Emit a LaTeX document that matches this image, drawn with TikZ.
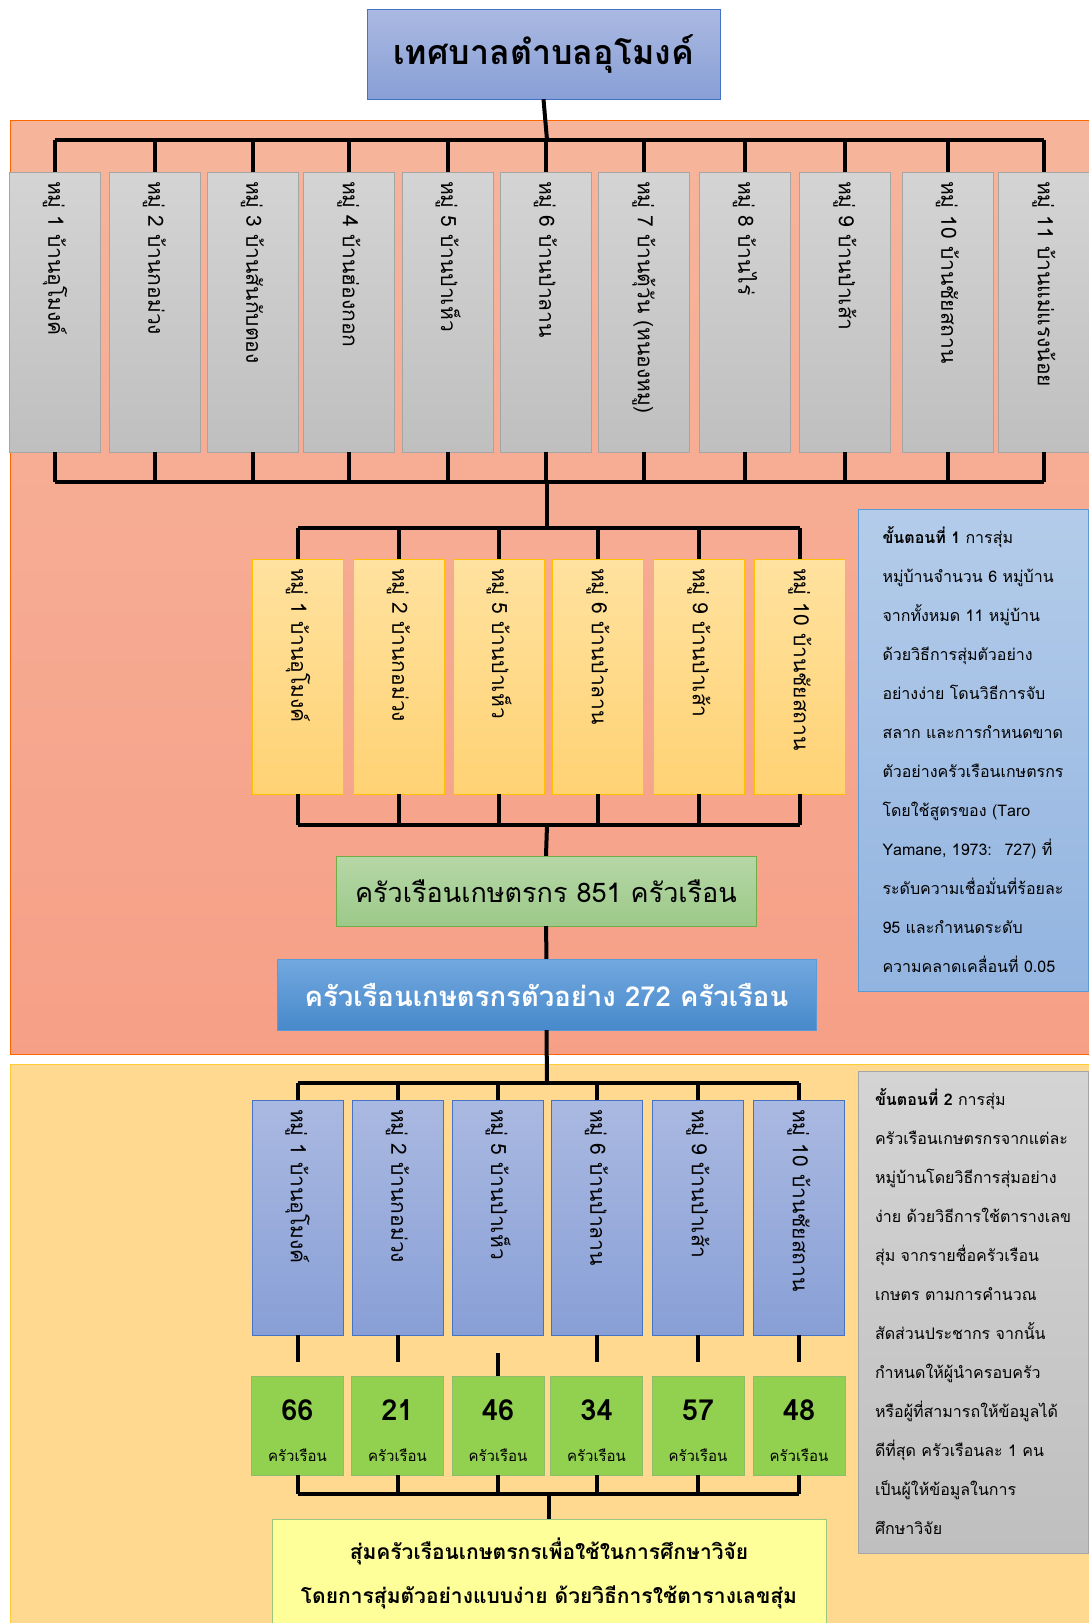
\documentclass[tikz,border=0pt]{standalone}
\usepackage{fontspec}
\setmainfont[Script=Thai]{Loma}
\usepackage{tikz}
\usetikzlibrary{calc}

\definecolor{panelorange}{HTML}{F5B196}
\definecolor{panelyellow}{HTML}{FED98F}
\definecolor{graytop}{HTML}{D4D4D4}
\definecolor{graybot}{HTML}{BFBFBF}
\definecolor{grayline}{HTML}{A5A5A5}
\definecolor{ambertop}{HTML}{FFE29F}
\definecolor{amberbot}{HTML}{FFD274}
\definecolor{amberline}{HTML}{FFC000}
\definecolor{bluetop}{HTML}{AAB9E1}
\definecolor{bluebot}{HTML}{889FD6}
\definecolor{blueline}{HTML}{4472C4}
\definecolor{greentop}{HTML}{B6D7A6}
\definecolor{greenbot}{HTML}{9CC989}
\definecolor{greenline}{HTML}{70AD47}
\definecolor{skytop}{HTML}{72A8DF}
\definecolor{skybot}{HTML}{4789CB}
\definecolor{skyline}{HTML}{5B9BD5}
\definecolor{notetop}{HTML}{B4CCEA}
\definecolor{notebot}{HTML}{92B4E0}
\definecolor{limegreen}{HTML}{92D050}
\definecolor{paleyellow}{HTML}{FFFF99}

\begin{document}
\begin{tikzpicture}[x=1pt, y=-1pt,
	bus/.style={line width=4, black},
	titlebox/.style={draw=blueline, top color=bluetop, bottom color=bluebot, minimum width=353, minimum height=90, inner sep=0, font=\fontsize{34}{40}\selectfont\bfseries},
	villagebox/.style={rotate=-90, draw=grayline, top color=graytop, bottom color=graybot, minimum width=280, minimum height=91, text width=262, inner sep=0, align=left, font=\fontsize{21}{23}\selectfont},
	pickbox/.style={villagebox, draw=amberline, top color=ambertop, bottom color=amberbot, minimum width=235, text width=217},
	drawbox/.style={villagebox, draw=blueline, top color=bluetop, bottom color=bluebot, minimum width=235, text width=217},
	countbox/.style={draw=greenline!80, fill=limegreen, minimum width=92, minimum height=99, inner sep=0, align=center},
	notebox/.style={minimum width=230, minimum height=482, inner sep=0, align=left, font=\fontsize{16}{39}\selectfont}
]
\useasboundingbox (0,0) rectangle (1088,1623);

% background panels
\draw[draw=orange!80!red, top color=panelorange!95!white, bottom color=panelorange!90!red] (10,120) rectangle (1092,1054);
\draw[draw=amberline!80, fill=panelyellow] (10,1064) rectangle (1092,1630);

% top level
\node[titlebox] (title) at (543.5,54) {เทศบาลตำบลอุโมงค์};
\coordinate (topbus) at (547,140);
\coordinate (midbus) at (547,482);
\coordinate (pickbus) at (547,528);
\coordinate (sumbus) at (547,825);
\coordinate (drawbus) at (547,1083);
\coordinate (endbus) at (549,1494);

\foreach \x/\name [count=\i] in {55/หมู่ 1 บ้านอุโมงค์, 154.5/หมู่ 2 บ้านกอม่วง, 252.5/หมู่ 3 บ้านสันกับตอง, 349/หมู่ 4 บ้านฮ่องกอก, 448/หมู่ 5 บ้านป่าเห็ว, 545.5/หมู่ 6 บ้านป่าลาน, 644/หมู่ 7 บ้านตุ้วัน (หนองหมู), 745/หมู่ 8 บ้านไร่, 845/หมู่ 9 บ้านป่าเส้า, 947.5/หมู่ 10 บ้านชัยสถาน, 1044/หมู่ 11 บ้านแม่แรงน้อย}
{
	\node[villagebox] (v\i) at (\x,312) {\name};
	\draw[bus] (v\i.west) -- (v\i.west |- topbus);
	\draw[bus] (v\i.east) -- (v\i.east |- midbus);
}
\draw[bus] (title.south) -- (topbus);
\draw[bus] (v1.west |- topbus) -- (v11.west |- topbus);
\draw[bus] (v1.east |- midbus) -- (v11.east |- midbus);
\draw[bus] (midbus) -- (pickbus);

% step 1: chosen villages
\foreach \x/\name [count=\i] in {298/หมู่ 1 บ้านอุโมงค์, 398.5/หมู่ 2 บ้านกอม่วง, 499/หมู่ 5 บ้านป่าเห็ว, 598/หมู่ 6 บ้านป่าลาน, 699/หมู่ 9 บ้านป่าเส้า, 800/หมู่ 10 บ้านชัยสถาน}
{
	\node[pickbox] (p\i) at (\x,676.5) {\name};
	\draw[bus] (p\i.west) -- (p\i.west |- pickbus);
	\draw[bus] (p\i.east) -- (p\i.east |- sumbus);
}
\draw[bus] (p1.west |- pickbus) -- (p6.west |- pickbus);
\draw[bus] (p1.east |- sumbus) -- (p6.east |- sumbus);

\node[draw=greenline, top color=greentop, bottom color=greenbot, minimum width=420, minimum height=70, inner sep=0, font=\fontsize{27}{32}\selectfont] (farms) at (546,891) {ครัวเรือนเกษตรกร 851 ครัวเรือน};
\node[draw=skyline, top color=skytop, bottom color=skybot, minimum width=539, minimum height=71, inner sep=0, text=white, font=\fontsize{27.5}{32}\selectfont\bfseries] (sample) at (546.5,994.5) {ครัวเรือนเกษตรกรตัวอย่าง 272 ครัวเรือน};
\draw[bus] (sumbus) -- (farms.north);
\draw[bus] (farms) -- (sample);
\draw[bus] (sample.south) -- (drawbus);

\node[notebox, draw=skyline, top color=notetop, bottom color=notebot] (stepone) at (973,750) {{\bfseries ขั้นตอนที่ 1} การสุ่ม\\ หมู่บ้านจำนวน 6 หมู่บ้าน\\ จากทั้งหมด 11 หมู่บ้าน\\ ด้วยวิธีการสุ่มตัวอย่าง\\ อย่างง่าย โดนวิธีการจับ\\ สลาก และการกำหนดขาด\\ ตัวอย่างครัวเรือนเกษตรกร\\ โดยใช้สูตรของ (Taro\\ Yamane, 1973:~ 727) ที่\\ ระดับความเชื่อมั่นที่ร้อยละ\\ 95 และกำหนดระดับ\\ ความคลาดเคลื่อนที่ 0.05};

% step 2: households in each village
\foreach \x/\name/\n [count=\i] in {297.5/หมู่ 1 บ้านอุโมงค์/66, 397.5/หมู่ 2 บ้านกอม่วง/21, 498/หมู่ 5 บ้านป่าเห็ว/46, 596.5/หมู่ 6 บ้านป่าลาน/34, 698/หมู่ 9 บ้านป่าเส้า/57, 799/หมู่ 10 บ้านชัยสถาน/48}
{
	\node[drawbox] (q\i) at (\x,1217.5) {\name};
	\node[countbox] (n\i) at (\x,1425.5) {{\fontsize{29}{29}\selectfont\bfseries\rule{0pt}{31pt}\n}\\[27pt]{\fontsize{15}{15}\selectfont ครัวเรือน}};
	\draw[bus] (q\i.west) -- (q\i.west |- drawbus);
	\draw[bus] (n\i.south) -- (n\i.south |- endbus);
}
\foreach \i in {1,2,4,5,6}
	\draw[bus] (q\i.east) -- ++(0,27);
\draw[bus] (n3.north) -- ++(0,-23);
\draw[bus] (q1.west |- drawbus) -- (q6.west |- drawbus);
\draw[bus] (n1.south |- endbus) -- (n6.south |- endbus);

\node[notebox, draw=grayline, top color=graytop, bottom color=graybot] (steptwo) at (973,1312) {{\bfseries ขั้นตอนที่ 2} การสุ่ม\\ ครัวเรือนเกษตรกรจากแต่ละ\\ หมู่บ้านโดยวิธีการสุ่มอย่าง\\ ง่าย ด้วยวิธีการใช้ตารางเลข\\ สุ่ม จากรายชื่อครัวเรือน\\ เกษตร ตามการคำนวณ\\ สัดส่วนประชากร จากนั้น\\ กำหนดให้ผู้นำครอบครัว\\ หรือผู้ที่สามารถให้ข้อมูลได้\\ ดีที่สุด ครัวเรือนละ 1 คน\\ เป็นผู้ให้ข้อมูลในการ\\ ศึกษาวิจัย};

\node[draw=greenline!70, fill=paleyellow, minimum width=554, minimum height=108, inner sep=0, align=center, font=\fontsize{21}{44}\selectfont\bfseries] (final) at (549,1573) {สุ่มครัวเรือนเกษตรกรเพื่อใช้ในการศึกษาวิจัย\\ โดยการสุ่มตัวอย่างแบบง่าย ด้วยวิธีการใช้ตารางเลขสุ่ม};
\draw[bus] (endbus) -- (final.north);
\end{tikzpicture}
\end{document}
